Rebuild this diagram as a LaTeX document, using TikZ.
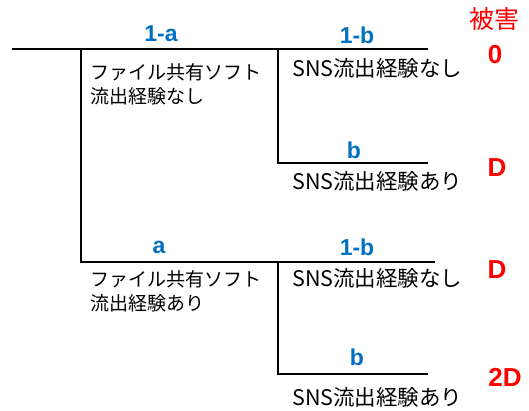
\documentclass[tikz,border=0pt]{standalone}
\usepackage{fontspec}
\setmainfont{Noto Sans CJK JP}
\newfontfamily\lat{Liberation Sans}
\definecolor{lblblue}{RGB}{0,112,192}
\definecolor{lblred}{RGB}{255,0,0}
\begin{document}
\begin{tikzpicture}[x=1pt,y=-1pt,
  branch/.style={line width=2pt,black},
  txt/.style={inner sep=0pt,anchor=west,align=left,font=\fontsize{19}{24}\selectfont},
  stxt/.style={inner sep=0pt,anchor=west,align=left,font=\fontsize{21.5}{24}\selectfont},
  prob/.style={inner sep=0pt,text=lblblue,font=\lat\bfseries\fontsize{23}{24}\selectfont},
  dmg/.style={inner sep=0pt,text=lblred,font=\lat\bfseries\fontsize{26}{28}\selectfont}]
\useasboundingbox (0,0) rectangle (529,410);
% coordinates
\coordinate (root) at (12,49);
\coordinate (n1) at (81,49);
\coordinate (n2) at (278,49);
\coordinate (e1) at (428,49);
\coordinate (n5) at (278,163);
\coordinate (e2) at (428,163);
\coordinate (n3) at (81,262);
\coordinate (n4) at (278,262);
\coordinate (e3) at (435,262);
\coordinate (n6) at (278,374);
\coordinate (e4) at (428,374);
% lines
\draw[branch] (root) -- (e1);
\draw[branch] (n1) -- (n3) -- (e3);
\draw[branch] (n2) -- (n5) -- (e2);
\draw[branch] (n4) -- (n6) -- (e4);
% labels
\node[prob] (pa1) at (161,34) {1-a};
\node[prob] (pb1) at (357,35) {1-b};
\node[prob] (pb2) at (354,150) {b};
\node[prob] (pa2) at (159,247) {a};
\node[prob] (pb3) at (357,247) {1-b};
\node[prob] (pb4) at (357,357) {b};
\node[inner sep=0pt,text=lblred,font=\fontsize{25}{27}\selectfont] (hdr) at (494,19) {被害};
\node[dmg] (d1) at (495,55) {0};
\node[dmg] (d2) at (497,168) {D};
\node[dmg] (d3) at (497,270) {D};
\node[dmg] (d4) at (505,377) {2D};
\node[txt] (f1) at (90,84) {ファイル共有ソフト\\流出経験なし};
\node[txt] (f2) at (90,291) {ファイル共有ソフト\\流出経験あり};
\node[stxt] (s1) at (292,68) {SNS流出経験なし};
\node[stxt] (s2) at (292,181) {SNS流出経験あり};
\node[stxt] (s3) at (292,278) {SNS流出経験なし};
\node[stxt] (s4) at (292,397) {SNS流出経験あり};
\end{tikzpicture}
\end{document}
